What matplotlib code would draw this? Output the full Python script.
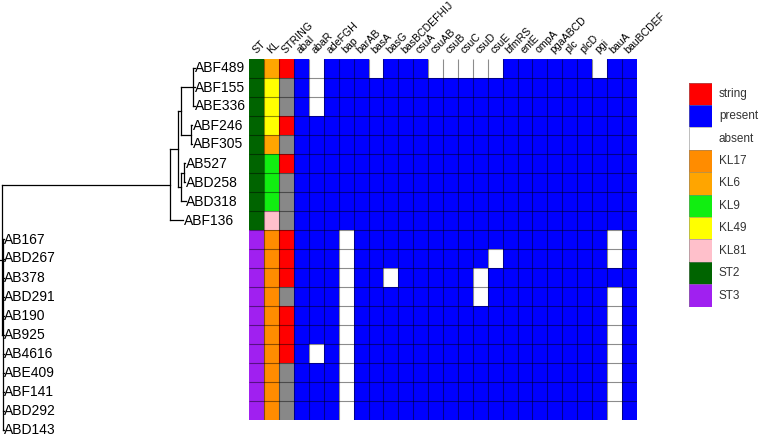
"""
Phylogeny of A. baumannii isolates next to an ST / KL / STRING / gene presence heatmap.
"""

import matplotlib.pyplot as plt
import numpy as np
from matplotlib.colors import ListedColormap

plt.rcParams["font.family"] = ["Liberation Sans", "DejaVu Sans"]

# Heatmap rows, top to bottom (ABD143 is in the tree but has no heatmap row).
strains = [
    "ABF489", "ABF155", "ABE336", "ABF246", "ABF305", "AB527", "ABD258", "ABD318", "ABF136",
    "AB167", "ABD267", "AB378", "ABD291", "AB190", "AB925", "AB4616", "ABE409", "ABF141", "ABD292",
]
st_type = ["ST2"] * 9 + ["ST3"] * 10
kl_type = ["KL6", "KL49", "KL49", "KL49", "KL6", "KL9", "KL9", "KL9", "KL81"] + ["KL17"] * 10
string_hit = [
    "string", "none", "none", "string", "none", "string", "none", "none", "none",
    "string", "string", "string", "none", "string", "string", "string", "none", "none", "none",
]

genes = [
    "abaI", "abaR", "adeFGH", "bap", "barAB", "basA", "basG", "basBCDEFHIJ", "csuA", "csuAB",
    "csuB", "csuC", "csuD", "csuE", "bfmRS", "entE", "ompA", "pgaABCD", "plc", "plcD", "pgi",
    "bauA", "bauBCDEF",
]
# genes missing in each strain (same order as `strains`)
absent_genes = [
    ["abaR", "basA", "csuAB", "csuB", "csuC", "csuD", "csuE", "pgi"],
    ["abaR"],
    ["abaR"],
    [], [], [], [], [], [],
    ["bap", "bauA"],
    ["bap", "csuE", "bauA"],
    ["bap", "basG", "csuD"],
    ["bap", "csuD", "bauA"],
    ["bap", "bauA"],
    ["bap", "bauA"],
    ["abaR", "bap", "bauA"],
    ["bap", "bauA"],
    ["bap", "bauA"],
    ["bap", "bauA"],
]

legend_labels = ["string", "present", "absent", "KL17", "KL6", "KL9", "KL49", "KL81", "ST2", "ST3"]
legend_colors = ["#ff0000", "#0000ff", "#ffffff", "#ff8c00", "#ffa500", "#11ee11",
                 "#ffff00", "#ffc0cb", "#006400", "#a020f0"]
none_color = "#888888"

# Tree as (children or leaf name, branch length); lengths in pixel-like units.
st3_leaves = ["AB167", "ABD267", "AB378", "ABD291", "AB190", "AB925", "AB4616",
              "ABE409", "ABF141", "ABD292", "ABD143"]
tree = ([
    ([
        ([
            ([
                ([("ABF489", 1.5), ("ABF155", 1.5), ("ABE336", 1.5)], 12.5),
                ([("ABF246", 1.5), ("ABF305", 1.5)], 10.0),
            ], 3.0),
            ([
                ([("AB527", 1.0), ("ABD258", 1.0)], 3.5),
                ("ABD318", 5.0),
            ], 3.0),
        ], 7.5),
        ("ABF136", 13.0),
    ], 168.0),
    ([(name, 1.0) for name in st3_leaves], 0.5),
], 2.0)


def draw_tree(ax, node, x0, leaf_y, lw=0.9):
    """Draw node whose parent sits at x0; returns the node's y position."""
    body, length = node
    x1 = x0 + length
    if isinstance(body, str):
        y = leaf_y[body]
        ax.text(x1 + 0.8, y, body, va="center", ha="left", fontsize=10, clip_on=False)
    else:
        ys = [draw_tree(ax, child, x1, leaf_y, lw) for child in body]
        ax.plot([x1, x1], [ys[0], ys[-1]], color="black", lw=lw, clip_on=False)
        y = (ys[0] + ys[-1]) / 2
    ax.plot([x0, x1], [y, y], color="black", lw=lw, clip_on=False)
    return y


def main() -> None:
    W, H = 760, 436
    fig = plt.figure(figsize=(W / 100, H / 100), dpi=100)

    left, right, top, bottom = 249.3, 636.7, 59.0, 420.0
    hm_box = [left / W, 1 - bottom / H, (right - left) / W, (bottom - top) / H]

    # --- heatmap ---
    ax = fig.add_axes(hm_box)
    codes = {name: i for i, name in enumerate(legend_labels)}
    codes["none"] = len(legend_labels)
    cmap = ListedColormap(legend_colors + [none_color])

    columns = ["ST", "KL", "STRING"] + genes
    nrow, ncol = len(strains), len(columns)
    mat = np.zeros((nrow, ncol), dtype=int)
    for r in range(nrow):
        mat[r, 0] = codes[st_type[r]]
        mat[r, 1] = codes[kl_type[r]]
        mat[r, 2] = codes[string_hit[r]]
        for g, gene in enumerate(genes):
            mat[r, 3 + g] = codes["absent"] if gene in absent_genes[r] else codes["present"]

    ax.pcolormesh(mat, cmap=cmap, vmin=-0.5, vmax=len(legend_labels) + 0.5)
    grid_kw = dict(color=(0, 0, 0, 0.45), linewidth=0.8)
    ax.vlines(np.arange(1, ncol), 0, nrow, **grid_kw)
    ax.hlines(np.arange(1, nrow), 0, ncol, **grid_kw)
    ax.set_xlim(0, ncol)
    ax.set_ylim(nrow, 0)
    ax.axis("off")
    for j, col in enumerate(columns):
        ax.text(j + 0.55, -0.2, col, rotation=45, rotation_mode="anchor",
                ha="left", va="bottom", fontsize=7.6, clip_on=False)

    # --- tree ---
    tax = fig.add_axes([0, hm_box[1], left / W, hm_box[3]])
    tax.set_xlim(0, left)
    tax.set_ylim(nrow, 0)
    tax.axis("off")
    leaf_order = strains + ["ABD143"]
    leaf_y = {name: i + 0.5 for i, name in enumerate(leaf_order)}
    draw_tree(tax, tree, 0.0, leaf_y)

    # --- legend ---
    lg_top, lg_bottom = 82.7, 306.7
    lax = fig.add_axes([689 / W, 1 - lg_bottom / H, 23 / W, (lg_bottom - lg_top) / H])
    n = len(legend_labels)
    lax.pcolormesh(np.arange(n).reshape(-1, 1), cmap=cmap, vmin=-0.5, vmax=n + 0.5,
                   edgecolors=(0.5, 0.5, 0.5, 0.5), linewidth=0.5)
    lax.set_xlim(0, 1)
    lax.set_ylim(n, 0)
    lax.axis("off")
    for i, lab in enumerate(legend_labels):
        lax.text(1.3, i + 0.5, lab, va="center", ha="left", fontsize=8.5,
                 color="#333333", clip_on=False)

    fig.savefig("out.png", dpi=100)


if __name__ == "__main__":
    main()
